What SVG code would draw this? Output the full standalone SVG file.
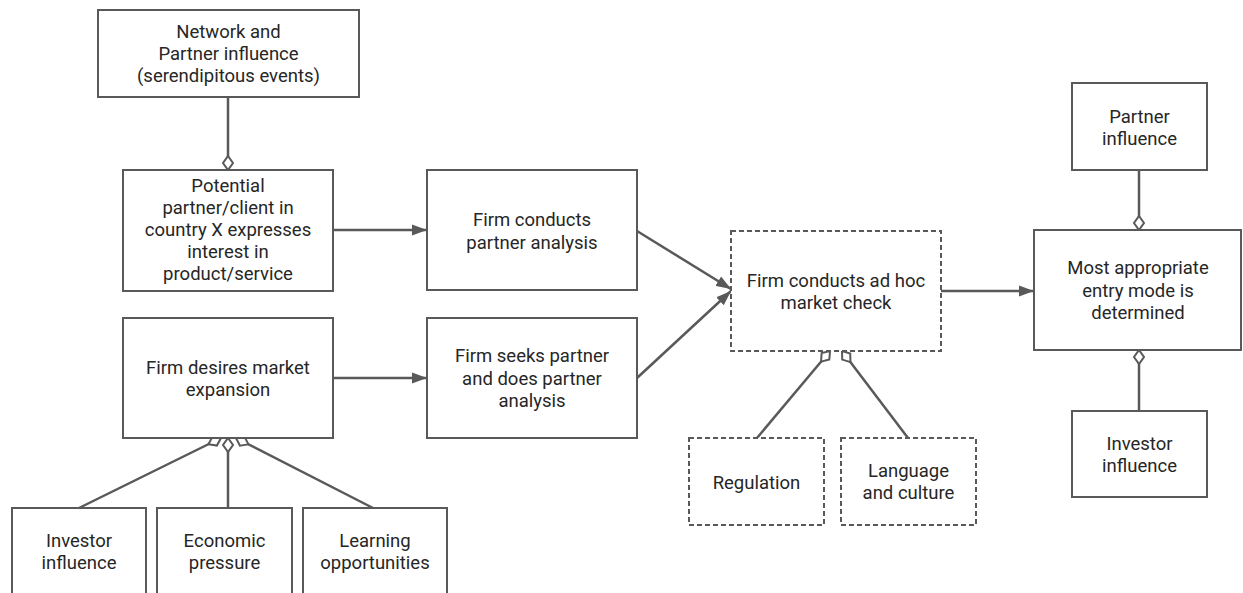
<svg xmlns="http://www.w3.org/2000/svg" width="1243" height="593" viewBox="0 0 1243 593">
<defs>
<style>
.box{fill:#fff;stroke:#595959;stroke-width:2}
.dbox{fill:#fff;stroke:#595959;stroke-width:2;stroke-dasharray:5 3}
.t{font-family:Roboto,"Liberation Sans",sans-serif;font-size:18.5px;fill:#262626;text-anchor:middle}
.c{fill:none;stroke:#595959;stroke-width:2.5}
</style>
<marker id="arrow" markerUnits="userSpaceOnUse" markerWidth="16" markerHeight="12" viewBox="0 -6 16 12" refX="15" refY="0" orient="auto">
<path d="M0,-5.5 L15,0 L0,5.5 z" fill="#595959"/>
</marker>
<marker id="diamond" markerUnits="userSpaceOnUse" markerWidth="18" markerHeight="14" viewBox="-1.5 -7 18 14" refX="14" refY="0" orient="auto">
<path d="M0,0 L7,-5 L14,0 L7,5 z" fill="#fff" stroke="#595959" stroke-width="2"/>
</marker>
</defs>
<rect width="1243" height="593" fill="#fff"/>

<g id="connectors">
<line class="c" x1="228" y1="97" x2="228" y2="170" marker-end="url(#diamond)"/>
<line class="c" x1="333" y1="230" x2="427" y2="230" marker-end="url(#arrow)"/>
<line class="c" x1="333" y1="378" x2="427" y2="378" marker-end="url(#arrow)"/>
<line class="c" x1="637" y1="231" x2="731" y2="289" marker-end="url(#arrow)"/>
<line class="c" x1="637" y1="378" x2="731" y2="291" marker-end="url(#arrow)"/>
<line class="c" x1="941" y1="291" x2="1034" y2="291" marker-end="url(#arrow)"/>
<line class="c" x1="1139" y1="170" x2="1139" y2="230" marker-end="url(#diamond)"/>
<line class="c" x1="1139" y1="411" x2="1139" y2="350" marker-end="url(#diamond)"/>
<line class="c" x1="757" y1="438" x2="830" y2="351" marker-end="url(#diamond)"/>
<line class="c" x1="908" y1="438" x2="842" y2="351" marker-end="url(#diamond)"/>
<line class="c" x1="79" y1="508" x2="221" y2="438" marker-end="url(#diamond)"/>
<line class="c" x1="228" y1="508" x2="228" y2="438" marker-end="url(#diamond)"/>
<line class="c" x1="373" y1="508" x2="236" y2="438" marker-end="url(#diamond)"/>
</g>

<g id="network">
<rect class="box" x="98" y="10" width="261" height="87"/>
<text class="t" x="228.5" y="38">Network and</text>
<text class="t" x="228.5" y="60">Partner influence</text>
<text class="t" x="228.5" y="82">(serendipitous events)</text>
</g>

<g id="potential">
<rect class="box" x="123" y="170" width="210" height="121"/>
<text class="t" x="228" y="192">Potential</text>
<text class="t" x="228" y="214">partner/client in</text>
<text class="t" x="228" y="236">country X expresses</text>
<text class="t" x="228" y="258">interest in</text>
<text class="t" x="228" y="280">product/service</text>
</g>

<g id="firm-desires">
<rect class="box" x="123" y="318" width="210" height="120"/>
<text class="t" x="228" y="374">Firm desires market</text>
<text class="t" x="228" y="396">expansion</text>
</g>

<g id="firm-conducts">
<rect class="box" x="427" y="170" width="210" height="120"/>
<text class="t" x="532" y="226">Firm conducts</text>
<text class="t" x="532" y="249">partner analysis</text>
</g>

<g id="firm-seeks">
<rect class="box" x="427" y="318" width="210" height="120"/>
<text class="t" x="532" y="362">Firm seeks partner</text>
<text class="t" x="532" y="385">and does partner</text>
<text class="t" x="532" y="407">analysis</text>
</g>

<g id="market-check">
<rect class="dbox" x="731" y="231" width="210" height="120"/>
<text class="t" x="836" y="287">Firm conducts ad hoc</text>
<text class="t" x="836" y="309">market check</text>
</g>

<g id="regulation">
<rect class="dbox" x="689" y="438" width="135" height="87"/>
<text class="t" x="756.5" y="489">Regulation</text>
</g>

<g id="language">
<rect class="dbox" x="841" y="438" width="135" height="87"/>
<text class="t" x="908.5" y="477">Language</text>
<text class="t" x="908.5" y="499">and culture</text>
</g>

<g id="entry-mode">
<rect class="box" x="1034" y="230" width="207" height="120"/>
<text class="t" x="1138" y="274">Most appropriate</text>
<text class="t" x="1138" y="297">entry mode is</text>
<text class="t" x="1138" y="319">determined</text>
</g>

<g id="partner-influence">
<rect class="box" x="1072" y="83" width="135" height="87"/>
<text class="t" x="1139.5" y="123">Partner</text>
<text class="t" x="1139.5" y="145">influence</text>
</g>

<g id="investor-influence-right">
<rect class="box" x="1072" y="411" width="135" height="86"/>
<text class="t" x="1139.5" y="450">Investor</text>
<text class="t" x="1139.5" y="472">influence</text>
</g>

<g id="investor-influence-bottom">
<rect class="box" x="12" y="508" width="134" height="100"/>
<text class="t" x="79" y="547">Investor</text>
<text class="t" x="79" y="569">influence</text>
</g>

<g id="economic-pressure">
<rect class="box" x="157" y="508" width="135" height="100"/>
<text class="t" x="224.5" y="547">Economic</text>
<text class="t" x="224.5" y="569">pressure</text>
</g>

<g id="learning-opportunities">
<rect class="box" x="303" y="508" width="144" height="100"/>
<text class="t" x="375" y="547">Learning</text>
<text class="t" x="375" y="569">opportunities</text>
</g>
</svg>
